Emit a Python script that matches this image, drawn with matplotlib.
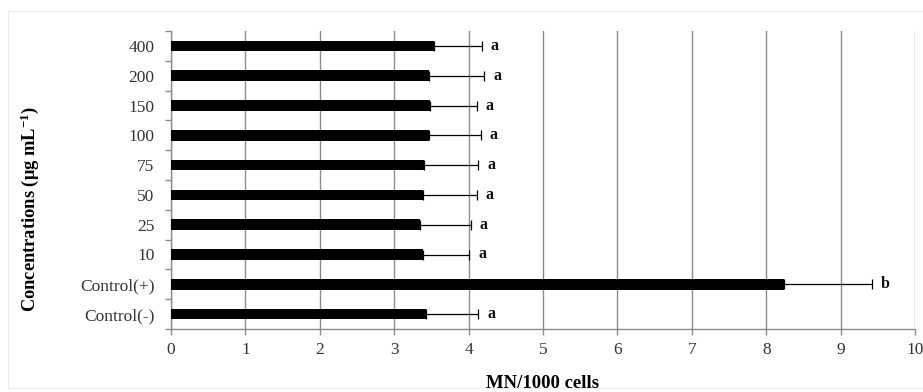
import matplotlib
matplotlib.use("Agg")
import matplotlib.pyplot as plt
from matplotlib.patches import Rectangle
import numpy as np

# Treatments listed bottom to top
categories = ["Control(-)", "Control(+)", "10", "25", "50", "75", "100", "150", "200", "400"]
mn_means = [3.43, 8.24, 3.39, 3.35, 3.39, 3.40, 3.47, 3.48, 3.47, 3.53]
mn_sd = [0.70, 1.18, 0.62, 0.68, 0.72, 0.73, 0.69, 0.63, 0.74, 0.65]
groups = ["a", "b", "a", "a", "a", "a", "a", "a", "a", "a"]
x_ticks = [0, 1, 2, 3, 4, 5, 6, 7, 8, 9, 10]

plt.rcParams["font.family"] = ["Liberation Serif", "DejaVu Serif"]
plt.rcParams["mathtext.fontset"] = "custom"
plt.rcParams["mathtext.rm"] = "Liberation Serif"
plt.rcParams["mathtext.bf"] = "Liberation Serif:bold"

fig = plt.figure(figsize=(9.23, 3.92), dpi=100)
fig.patches.append(Rectangle((8 / 923, 1 - 388 / 392), 915 / 923, 377 / 392,
                             transform=fig.transFigure, fill=False,
                             edgecolor="#ececec", linewidth=0.8))

ax = fig.add_axes([171 / 923, 1 - 329 / 392, 744 / 923, 298 / 392])
y = np.arange(len(categories))

ax.barh(y, mn_means, height=0.36, color="black", zorder=3)
ax.errorbar(mn_means, y, xerr=[np.zeros(len(mn_sd)), mn_sd], fmt="none",
            ecolor="black", elinewidth=0.9, capsize=3.5, capthick=0.9, zorder=4)

for yi, m, s, g in zip(y, mn_means, mn_sd, groups):
    ax.text(m + s + 0.12, yi, g, fontsize=11.5, fontweight="bold",
            va="center", ha="left", color="#111111", zorder=5)

ax.set_xlim(0, 10)
ax.set_ylim(-0.5, len(categories) - 0.5)
ax.set_xticks(x_ticks)
ax.set_xticklabels([str(t) for t in x_ticks])
ax.set_yticks(y)
ax.set_yticklabels(categories)
ax.set_yticks(np.arange(-0.5, len(categories), 1.0), minor=True)

ax.xaxis.grid(True, color="#8c8c8c", linewidth=1.0, zorder=0)
ax.set_axisbelow(True)

for side in ["top", "right"]:
    ax.spines[side].set_visible(False)
for side in ["left", "bottom"]:
    ax.spines[side].set_color("#8c8c8c")
    ax.spines[side].set_linewidth(1.0)

ax.tick_params(axis="y", which="major", length=0, pad=12, labelsize=12.5,
               labelcolor="#333333")
ax.tick_params(axis="y", which="minor", length=4, width=1.0, color="#8c8c8c")
ax.tick_params(axis="x", which="major", length=4, width=1.0, color="#8c8c8c",
               pad=5, labelsize=12.5, labelcolor="#333333")

fig.text(543 / 923, 1 - 383 / 392, "MN/1000 cells", fontsize=13.5,
         fontweight="bold", ha="center", va="center")
fig.text(30 / 923, 1 - 209 / 392, r"Concentrations (μg mL$\mathbf{^{-1}}$)",
         fontsize=13.3, fontweight="bold", rotation=90, ha="center", va="center")

fig.savefig("out.png", dpi=100, facecolor="white")
